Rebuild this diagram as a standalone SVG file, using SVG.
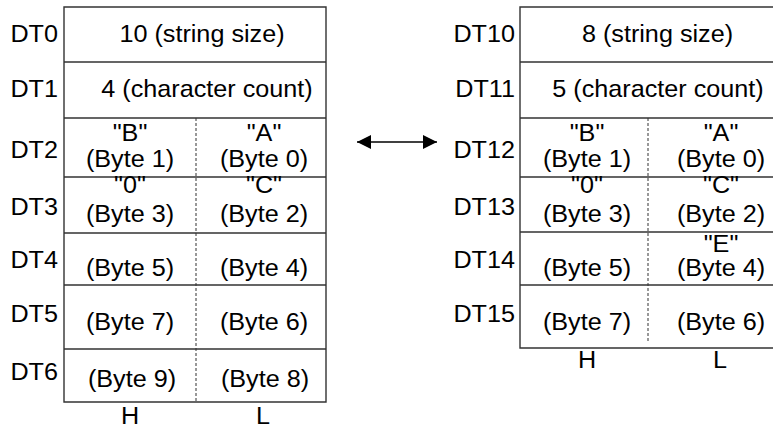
<svg xmlns="http://www.w3.org/2000/svg" width="773" height="428" viewBox="0 0 773 428">
<style>
  .ln { stroke: #333; stroke-width: 1.4; fill: none; }
  .dash { stroke: #333; stroke-width: 1; stroke-dasharray: 3 2; fill: none; }
  text { font-family: "Liberation Sans", Arial, sans-serif; font-size: 24px; fill: #000; }
  .m { text-anchor: middle; }
  .e { text-anchor: end; }
</style>
<defs>
  <marker id="ah" markerWidth="14" markerHeight="14" refX="14" refY="7" orient="auto-start-reverse" markerUnits="userSpaceOnUse">
    <path d="M0,0 L14,7 L0,14 Z" fill="#000"/>
  </marker>
</defs>
<rect width="773" height="428" fill="#fff"/>

<!-- Left table frame -->
<g id="left-table">
  <path class="ln" d="M64,7 H326 V402 H64 Z"/>
  <path class="ln" d="M64,62 H326 M64,118 H326 M64,177 H326 M64,233 H326 M64,285 H326 M64,349 H326"/>
  <path class="dash" d="M196,118 V402"/>
  <g transform="scale(1.05 1)">
    <text class="m" x="123.81" y="424">H</text>
    <text class="m" x="250.48" y="424">L</text>
  </g>
</g>

<g id="DT0"><g transform="scale(1.05 1)">
  <text class="e" x="55.24" y="42">DT0</text>
  <text class="m" x="192.38" y="42">10 (string size)</text>
</g></g>
<g id="DT1"><g transform="scale(1.05 1)">
  <text class="e" x="55.24" y="97">DT1</text>
  <text class="m" x="197.14" y="97">4 (character count)</text>
</g></g>
<g id="DT2"><g transform="scale(1.05 1)">
  <text class="e" x="55.24" y="158">DT2</text>
  <text class="m" x="123.81" y="141">"B"</text>
  <text class="m" x="123.81" y="167">(Byte 1)</text>
  <text class="m" x="251.43" y="141">"A"</text>
  <text class="m" x="251.43" y="167">(Byte 0)</text>
</g></g>
<g id="DT3"><g transform="scale(1.05 1)">
  <text class="e" x="55.24" y="215">DT3</text>
  <text class="m" x="123.81" y="193">"0"</text>
  <text class="m" x="123.81" y="222">(Byte 3)</text>
  <text class="m" x="251.43" y="193">"C"</text>
  <text class="m" x="251.43" y="222">(Byte 2)</text>
</g></g>
<g id="DT4"><g transform="scale(1.05 1)">
  <text class="e" x="55.24" y="268">DT4</text>
  <text class="m" x="123.81" y="276">(Byte 5)</text>
  <text class="m" x="251.43" y="276">(Byte 4)</text>
</g></g>
<g id="DT5"><g transform="scale(1.05 1)">
  <text class="e" x="55.24" y="322">DT5</text>
  <text class="m" x="123.81" y="330">(Byte 7)</text>
  <text class="m" x="251.43" y="330">(Byte 6)</text>
</g></g>
<g id="DT6"><g transform="scale(1.05 1)">
  <text class="e" x="55.24" y="380">DT6</text>
  <text class="m" x="125.71" y="387">(Byte 9)</text>
  <text class="m" x="252.38" y="387">(Byte 8)</text>
</g></g>

<!-- Right table frame -->
<g id="right-table">
  <path class="ln" d="M790,7 H520 V348 H790"/>
  <path class="ln" d="M520,62 H790 M520,118 H790 M520,177 H790 M520,232 H790 M520,285 H790"/>
  <path class="dash" d="M648,118 V343"/>
  <g transform="scale(1.05 1)">
    <text class="m" x="559.05" y="368">H</text>
    <text class="m" x="685.71" y="368">L</text>
  </g>
</g>

<g id="DT10"><g transform="scale(1.05 1)">
  <text class="e" x="490.48" y="42">DT10</text>
  <text class="m" x="626.19" y="42">8 (string size)</text>
</g></g>
<g id="DT11"><g transform="scale(1.05 1)">
  <text class="e" x="490.48" y="97">DT11</text>
  <text class="m" x="626.67" y="97">5 (character count)</text>
</g></g>
<g id="DT12"><g transform="scale(1.05 1)">
  <text class="e" x="490.48" y="158">DT12</text>
  <text class="m" x="559.05" y="141">"B"</text>
  <text class="m" x="559.05" y="167">(Byte 1)</text>
  <text class="m" x="686.67" y="141">"A"</text>
  <text class="m" x="686.67" y="167">(Byte 0)</text>
</g></g>
<g id="DT13"><g transform="scale(1.05 1)">
  <text class="e" x="490.48" y="215">DT13</text>
  <text class="m" x="559.05" y="193">"0"</text>
  <text class="m" x="559.05" y="222">(Byte 3)</text>
  <text class="m" x="686.67" y="193">"C"</text>
  <text class="m" x="686.67" y="222">(Byte 2)</text>
</g></g>
<g id="DT14"><g transform="scale(1.05 1)">
  <text class="e" x="490.48" y="268">DT14</text>
  <text class="m" x="559.05" y="276">(Byte 5)</text>
  <text class="m" x="686.67" y="252">"E"</text>
  <text class="m" x="686.67" y="276">(Byte 4)</text>
</g></g>
<g id="DT15"><g transform="scale(1.05 1)">
  <text class="e" x="490.48" y="322">DT15</text>
  <text class="m" x="559.05" y="330">(Byte 7)</text>
  <text class="m" x="686.67" y="330">(Byte 6)</text>
</g></g>

<g id="connectors">
  <line x1="357" y1="142" x2="437" y2="142" stroke="#000" stroke-width="1.4" marker-start="url(#ah)" marker-end="url(#ah)"/>
</g>
</svg>
